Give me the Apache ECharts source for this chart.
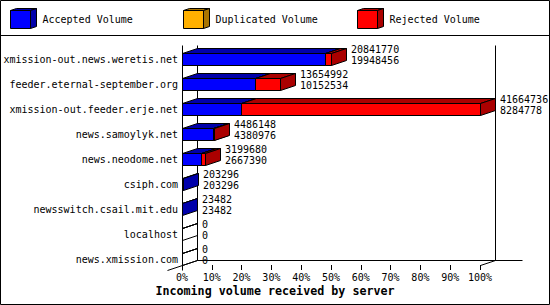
<!DOCTYPE html>
<html><head><meta charset="utf-8">
<script src="https://cdn.jsdelivr.net/npm/echarts@6/dist/echarts.min.js"></script>
<style>html,body{margin:0;padding:0;background:#fff}#c{width:550px;height:305px}</style>
</head><body><div id="c"></div>
<script>
const categories = ['xmission-out.news.weretis.net','feeder.eternal-september.org','xmission-out.feeder.erje.net','news.samoylyk.net','news.neodome.net','csiph.com','newsswitch.csail.mit.edu','localhost','news.xmission.com'];
const accepted   = [19948456, 10152534, 8284778, 4380976, 2667390, 203296, 23482, 0, 0];
const duplicated = [0, 0, 0, 0, 0, 0, 0, 0, 0];
const rejected   = [893314, 3502458, 33379958, 105172, 532290, 0, 0, 0, 0];
const seriesNames = ['Accepted Volume', 'Duplicated Volume', 'Rejected Volume'];
const xTickLabels = ['0%','10%','20%','30%','40%','50%','60%','70%','80%','90%','100%'];
const xTitle = 'Incoming volume received by server';

const FONT = '"DejaVu Sans Mono", "Liberation Mono", monospace';
const DX = 15, DY = 5, HALF = 6;
const colors = [['#0000ff','#0000aa'],['#ffb000','#aa7500'],['#ff0000','#aa0000']];
const parts = [accepted, duplicated, rejected];
const totals = accepted.map((a,i)=>a+duplicated[i]+rejected[i]);
const maxTotal = Math.max(...totals);
const pct = v => v / maxTotal * 100;

function segData(k){
  const out = [];
  categories.forEach((c,i)=>{
    let start = 0; for (let j=0;j<k;j++) start += parts[j][i];
    const v = parts[k][i];
    if (v > 0 || (k === 0 && totals[i] === 0)) out.push([pct(start), pct(start+v), i]);
  });
  return out;
}

function makeRender(front, dark){
  return function(params, api){
    const a = api.coord([api.value(0), api.value(2)]);
    const b = api.coord([api.value(1), api.value(2)]);
    const x0 = Math.round(a[0]) + 0.5, x1 = Math.round(b[0]) + 0.5;
    const cy = Math.round(a[1]);
    const t = cy - HALF + 0.5, bt = cy + HALF + 0.5;
    const zero = api.value(1) === api.value(0);
    const st = {stroke:'#000', lineWidth:1};
    return {type:'group', children:[
      {type:'polygon', shape:{points:[[x0,t],[x1,t],[x1,bt],[x0,bt]]}, style:Object.assign({fill: zero?'none':front}, st)},
      {type:'polygon', shape:{points:[[x0,t],[x1,t],[x1+DX,t-DY],[x0+DX,t-DY]]}, style:Object.assign({fill: zero?'none':dark}, st)},
      {type:'polygon', shape:{points:[[x1,t],[x1+DX,t-DY],[x1+DX,bt-DY],[x1,bt]]}, style:Object.assign({fill: zero?'none':dark}, st)}
    ]};
  };
}

function frameRender(params, api){
  const L = api.coord([0, 0]);
  const R = api.coord([100, categories.length-1]);
  const x0 = Math.round(L[0]) + 0.5, x1 = Math.round(R[0]) + 0.5;
  const top = Math.round(L[1]) - 14 + 0.5;
  const fb = Math.round(R[1]) + HALF + 0.5, bb = fb - DY;
  const st = {stroke:'#000', lineWidth:1, fill:'none'};
  const line = (p, q) => ({type:'line', shape:{x1:p[0], y1:p[1], x2:q[0], y2:q[1]}, style:st});
  return {type:'group', children:[
    line([x0+DX, top], [x0+DX, bb]),
    line([x1+DX, top], [x1+DX, bb]),
    line([x0+DX, bb], [x1+DX+27, bb]),
    line([x0-15, fb+5], [x0+DX, bb]),
    line([x1, fb], [x1+DX, bb]),
    line([x0, top], [x0, fb+5])
  ]};
}

function labelRender(params, api){
  const i = params.dataIndex;
  const p = api.coord([api.value(0), api.value(1)]);
  return {type:'text', x: Math.round(p[0]) + DX + 5, y: Math.round(p[1]) - 4,
    style:{text: totals[i] + '\n' + accepted[i], fill:'#000', fontSize:10, fontFamily:FONT,
      lineHeight:11, align:'left', verticalAlign:'middle'}};
}

const legendLeft = [10, 183, 357];
const graphics = [
  {type:'rect', shape:{x:0.5, y:0.5, width:549, height:304}, style:{fill:'none', stroke:'#000', lineWidth:1}, z:100},
  {type:'line', shape:{x1:0, y1:35.5, x2:550, y2:35.5}, style:{stroke:'#000', lineWidth:1}, z:100}
];
legendLeft.forEach((L,k)=>{
  graphics.push({type:'polygon', shape:{points:[[L+0.5,10.5],[L+20.5,10.5],[L+26.5,8.5],[L+6.5,8.5]]}, style:{fill:colors[k][1], stroke:'#000', lineWidth:1}, z:100});
  graphics.push({type:'polygon', shape:{points:[[L+20.5,10.5],[L+26.5,8.5],[L+26.5,26.5],[L+20.5,28.5]]}, style:{fill:colors[k][1], stroke:'#000', lineWidth:1}, z:100});
});

const series = [{
  type:'custom', name:'frame', renderItem: frameRender, data:[[0,0]], encode:{x:0, y:1}, clip:false, z:1, silent:true
}];
seriesNames.forEach((n,k)=>{
  series.push({type:'custom', name:n, renderItem: makeRender(colors[k][0], colors[k][1]),
    data: segData(k), encode:{x:[0,1], y:2}, clip:false, z:2,
    itemStyle:{color:colors[k][0]}});
});
series.push({type:'custom', name:'labels', renderItem: labelRender,
  data: categories.map((c,i)=>[pct(totals[i]), i]), encode:{x:0, y:1}, clip:false, z:3, silent:true});

const chart = echarts.init(document.getElementById('c'), null, {renderer:'svg', width:550, height:305});
chart.setOption({
  animation:false,
  backgroundColor:'#fff',
  title:{text:xTitle, left:'center', top:285, padding:0,
    textStyle:{fontFamily:FONT, fontSize:11.7, fontWeight:'bold', color:'#000'}},
  legend: seriesNames.map((n,k)=>({data:[n], left:legendLeft[k], top:10, padding:0, icon:'rect',
    itemWidth:20, itemHeight:18, selectedMode:false,
    itemStyle:{color:colors[k][0], borderColor:'#000', borderWidth:1},
    textStyle:{fontFamily:FONT, fontSize:10, color:'#000', padding:[0,0,0,7]}})),
  grid:{left:182, right:70, top:46.5, height:225, containLabel:false},
  xAxis:{type:'value', min:0, max:100, interval:10, offset:-6.5,
    axisLine:{show:false}, splitLine:{show:false},
    axisTick:{show:true, length:5, lineStyle:{color:'#000'}},
    axisLabel:{margin:7, color:'#000', fontFamily:FONT, fontSize:10,
      formatter:(v)=>xTickLabels[Math.round(v/10)]}},
  yAxis:{type:'category', data:categories, inverse:true,
    axisLine:{show:false}, axisTick:{show:false}, splitLine:{show:false},
    axisLabel:{margin:4, color:'#000', fontFamily:FONT, fontSize:10}},
  graphic: graphics,
  series: series
});
</script></body></html>
